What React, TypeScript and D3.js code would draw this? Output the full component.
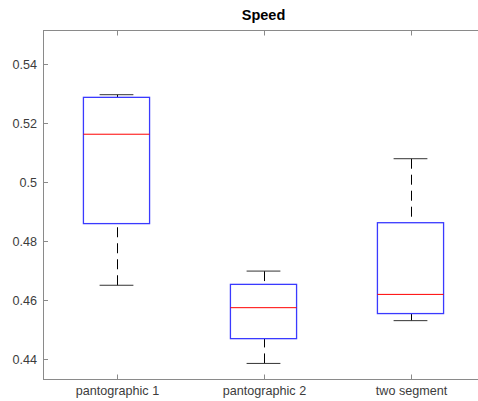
import * as d3 from "d3";

const categories = ["pantographic 1", "pantographic 2", "two segment"];
const whiskerLow = [0.465, 0.4385, 0.453];
const q1 = [0.4859, 0.4469, 0.4554];
const median = [0.5162, 0.4574, 0.4619];
const q3 = [0.5287, 0.4653, 0.4862];
const whiskerHigh = [0.5296, 0.4698, 0.5079];
const yTicks = [0.44, 0.46, 0.48, 0.5, 0.52, 0.54];

const W = 478;
const H = 401;
const margin = { left: 43, top: 30, right: 484, bottom: 379 };
const font = "Arial, 'Liberation Sans', Helvetica, sans-serif";
const axisColor = "#8a8a8a";
const textColor = "#3c3c3c";

export default function App() {
  const x = d3.scaleLinear().domain([0.5, 3.5]).range([margin.left, margin.right]);
  const y = d3.scaleLinear().domain([0.43322, 0.55153]).range([margin.bottom, margin.top]);
  const boxHalf = 0.225;
  const capHalf = 0.115;

  const boxes = categories.map((c, i) => ({
    name: c,
    pos: i + 1,
    lw: whiskerLow[i],
    q1: q1[i],
    med: median[i],
    q3: q3[i],
    uw: whiskerHigh[i],
  }));

  return (
    <div style={{ position: "absolute", left: 0, top: 0 }}>
      <svg width={W} height={H} style={{ display: "block", background: "#fff" }}>
        {/* frame */}
        <rect
          x={margin.left + 0.5}
          y={margin.top + 0.5}
          width={margin.right - margin.left}
          height={margin.bottom - margin.top}
          fill="none"
          stroke={axisColor}
        />

        {/* y ticks */}
        {yTicks.map((t) => {
          const yy = Math.round(y(t)) + 0.5;
          return (
            <g key={t}>
              <line x1={margin.left} x2={margin.left + 5} y1={yy} y2={yy} stroke={axisColor} />
              <line x1={margin.right - 5} x2={margin.right} y1={yy} y2={yy} stroke={axisColor} />
              <text
                x={margin.left - 6}
                y={yy}
                dy="0.35em"
                textAnchor="end"
                fontFamily={font}
                fontSize={12.6}
                fill={textColor}
              >
                {d3.format("~g")(t)}
              </text>
            </g>
          );
        })}

        {/* x ticks */}
        {boxes.map((b) => {
          const xx = Math.round(x(b.pos)) + 0.5;
          return (
            <g key={b.name}>
              <line x1={xx} x2={xx} y1={margin.bottom + 0.5} y2={margin.bottom - 4.5} stroke={axisColor} />
              <line x1={xx} x2={xx} y1={margin.top + 0.5} y2={margin.top + 5.5} stroke={axisColor} />
              <text
                x={xx}
                y={395}
                textAnchor="middle"
                fontFamily={font}
                fontSize={12.6}
                fill={textColor}
              >
                {b.name}
              </text>
            </g>
          );
        })}

        {/* boxes */}
        {boxes.map((b) => {
          const xc = Math.round(x(b.pos)) + 0.5;
          const xl = x(b.pos - boxHalf);
          const xr = x(b.pos + boxHalf);
          const cl = x(b.pos - capHalf);
          const cr = x(b.pos + capHalf);
          return (
            <g key={"box" + b.name}>
              <line x1={xc} x2={xc} y1={y(b.uw)} y2={y(b.q3)} stroke="#000" strokeDasharray="10,6" />
              <line x1={xc} x2={xc} y1={y(b.lw)} y2={y(b.q1)} stroke="#000" strokeDasharray="10,6" />
              <line x1={cl} x2={cr} y1={y(b.uw)} y2={y(b.uw)} stroke="#333" />
              <line x1={cl} x2={cr} y1={y(b.lw)} y2={y(b.lw)} stroke="#333" />
              <rect
                x={xl}
                y={y(b.q3)}
                width={xr - xl}
                height={y(b.q1) - y(b.q3)}
                fill="none"
                stroke="#3a3aff"
                strokeWidth={1.3}
              />
              <line x1={xl} x2={xr} y1={y(b.med)} y2={y(b.med)} stroke="#ff0000" />
            </g>
          );
        })}

        <text
          x={x(2)}
          y={20}
          textAnchor="middle"
          fontFamily={font}
          fontSize={14.5}
          fontWeight="bold"
          fill="#000"
        >
          Speed
        </text>
      </svg>
    </div>
  );
}
